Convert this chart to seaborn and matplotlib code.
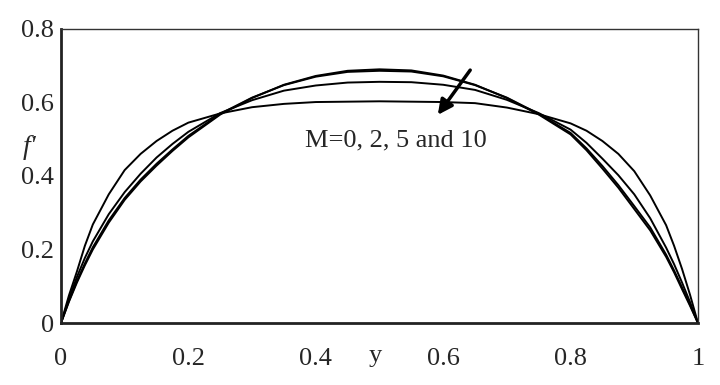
import numpy as np
import pandas as pd
import seaborn as sns
import matplotlib.pyplot as plt

# data
y_pos = [0, 0.0125, 0.025, 0.0375, 0.05, 0.075, 0.1, 0.125, 0.15, 0.175, 0.2, 0.25, 0.3,
         0.35, 0.4, 0.45, 0.5, 0.55, 0.6, 0.65, 0.7, 0.75, 0.8, 0.825, 0.85, 0.875,
         0.9, 0.925, 0.95, 0.9625, 0.975, 0.9875, 1]
f_m0 = [0, 0.058, 0.11, 0.157, 0.2, 0.273, 0.335, 0.385, 0.428, 0.468, 0.505, 0.567, 0.612,
        0.648, 0.672, 0.686, 0.69, 0.687, 0.673, 0.648, 0.612, 0.567, 0.513, 0.47, 0.42, 0.368,
        0.31, 0.252, 0.18, 0.138, 0.092, 0.047, 0]
f_m2 = [0, 0.06, 0.114, 0.162, 0.206, 0.279, 0.34, 0.39, 0.433, 0.472, 0.509, 0.569, 0.613,
        0.647, 0.67, 0.683, 0.686, 0.684, 0.671, 0.647, 0.613, 0.569, 0.517, 0.475, 0.427, 0.375,
        0.318, 0.26, 0.186, 0.143, 0.097, 0.05, 0]
f_m5 = [0, 0.066, 0.125, 0.177, 0.222, 0.296, 0.356, 0.406, 0.45, 0.487, 0.52, 0.571, 0.606,
        0.632, 0.646, 0.654, 0.656, 0.655, 0.648, 0.634, 0.607, 0.571, 0.526, 0.49, 0.447, 0.402,
        0.35, 0.285, 0.205, 0.16, 0.11, 0.057, 0]
f_m10 = [0, 0.075, 0.14, 0.21, 0.268, 0.35, 0.416, 0.46, 0.495, 0.523, 0.545, 0.57, 0.587,
         0.596, 0.601, 0.602, 0.603, 0.602, 0.601, 0.598, 0.586, 0.568, 0.543, 0.523, 0.495, 0.46,
         0.413, 0.347, 0.266, 0.21, 0.147, 0.077, 0]
m_values = [0, 2, 5, 10]

df = pd.concat([
    pd.DataFrame({'y': y_pos, 'f': f, 'M': m})
    for f, m in zip([f_m0, f_m2, f_m5, f_m10], m_values)
])

sns.set_style('white')
plt.rcParams['font.family'] = ['Liberation Serif', 'DejaVu Serif']

fig = plt.figure(figsize=(7.2, 3.85), dpi=100)
ax = fig.add_axes([0.0847, 0.161, 0.8847, 0.764])

sns.lineplot(data=df, x='y', y='f', hue='M', palette=['black'] * 4,
             estimator=None, sort=False, legend=False, linewidth=1.4, ax=ax)

ax.set_xlim(0, 1)
ax.set_ylim(0, 0.8)
ax.set_xticks([0, 0.2, 0.4, 0.6, 0.8, 1])
ax.set_xticklabels(['0', '0.2', '0.4', '0.6', '0.8', '1'])
ax.set_yticks([0, 0.2, 0.4, 0.6, 0.8])
ax.set_yticklabels(['0', '0.2', '0.4', '0.6', '0.8'])
ax.tick_params(axis='x', direction='in', length=4, color='#cccccc', labelsize=19, pad=18)
ax.tick_params(axis='y', length=0, labelsize=19, pad=5)

for side in ['left', 'bottom']:
    ax.spines[side].set_linewidth(2)
    ax.spines[side].set_color('#222222')
for side in ['top', 'right']:
    ax.spines[side].set_linewidth(1)
    ax.spines[side].set_color('#333333')

ax.set_xlabel('y', fontsize=19)
ax.xaxis.set_label_coords(0.493, -0.075)
ax.set_ylabel("f'", fontsize=20, style='italic', rotation=0)
ax.yaxis.set_label_coords(-0.05, 0.555)

ax.text(0.383, 0.497, 'M=0, 2, 5 and 10', fontsize=19, va='center', ha='left')
ax.annotate('', xy=(0.589, 0.56), xytext=(0.645, 0.694),
            arrowprops=dict(arrowstyle='-|>', color='black', lw=2.5,
                            mutation_scale=22))

fig.savefig('out.png', dpi=100)
